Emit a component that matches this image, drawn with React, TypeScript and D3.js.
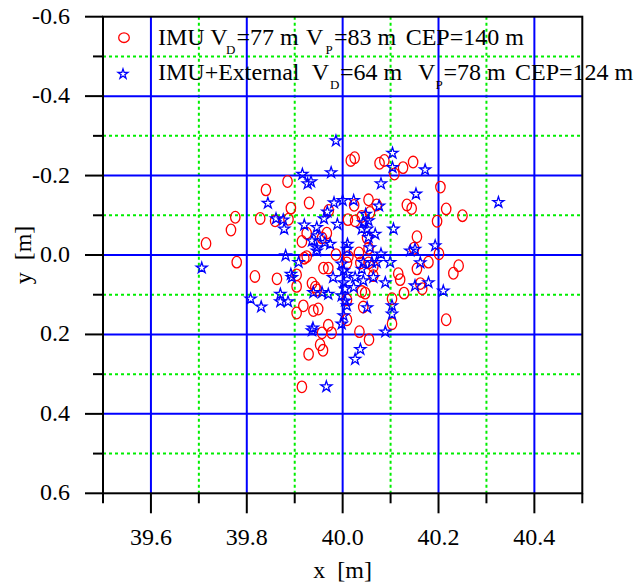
import React from "react";
import * as d3 from "d3";

// IMU only (red circles): [x, y] in metres
const imuPoints: [number, number][] = [
  [40.025, -0.245], [40.017, -0.238], [40.077, -0.231], [40.087, -0.238], [40.126, -0.22], [40.147, -0.234], [40.108, -0.204], [39.885, -0.185], [39.84, -0.164], [40.204, -0.171],
  [39.93, -0.131], [39.892, -0.118], [39.776, -0.095], [39.828, -0.092], [39.859, -0.086], [39.887, -0.09], [39.767, -0.063], [39.971, -0.112], [40.024, -0.125], [40.011, -0.089],
  [40.026, -0.086], [40.054, -0.139], [40.071, -0.126], [40.134, -0.126], [40.144, -0.117], [40.216, -0.116], [40.25, -0.099], [40.197, -0.085], [40.04, -0.097], [40.057, -0.107],
  [40.155, -0.046], [39.967, -0.055], [39.957, -0.043], [40.051, -0.043], [39.925, -0.055], [39.715, -0.029], [39.915, -0.034], [40.054, -0.017], [40.149, -0.017], [40.034, -0.005],
  [39.986, -0.001], [40.012, 0.004], [39.925, 0.004], [39.92, 0.008], [39.779, 0.018], [39.96, 0.033], [39.97, 0.033], [40.054, 0.02], [40.064, 0.029], [40.201, -0.003],
  [40.179, 0.018], [40.155, 0.035], [40.242, 0.027], [40.231, 0.046], [40.116, 0.047], [40.12, 0.062], [39.817, 0.054], [39.863, 0.06], [39.904, 0.05], [40.064, 0.052],
  [40.009, 0.02], [40.037, 0.02], [40.162, 0.072], [40.166, 0.085], [39.904, 0.079], [39.936, 0.071], [39.943, 0.081], [40.04, 0.092], [40.047, 0.096], [40.128, 0.096],
  [39.946, 0.088], [40.103, 0.11], [40.009, 0.113], [39.918, 0.128], [39.904, 0.146], [39.939, 0.14], [39.949, 0.136], [40.043, 0.131], [40.009, 0.163], [40.216, 0.163],
  [40.103, 0.173], [39.97, 0.177], [39.957, 0.196], [39.977, 0.196], [40.035, 0.193], [40.055, 0.213], [39.953, 0.226], [39.959, 0.24], [39.929, 0.25], [39.915, 0.332],
];

// IMU + External (blue stars): [x, y] in metres
const extPoints: [number, number][] = [
  [39.986, -0.29], [39.916, -0.206], [39.976, -0.21], [39.927, -0.182], [39.934, -0.187], [40.104, -0.259], [40.104, -0.223], [40.172, -0.217], [40.08, -0.182], [40.153, -0.156],
  [39.844, -0.133], [39.982, -0.134], [40.0, -0.14], [40.023, -0.14], [39.968, -0.111], [39.961, -0.094], [39.861, -0.094], [39.876, -0.091], [39.878, -0.068], [39.92, -0.078],
  [39.989, -0.08], [40.076, -0.126], [40.048, -0.105], [40.043, -0.084], [40.054, -0.089], [40.04, -0.068], [40.051, -0.068], [40.068, -0.055], [40.106, -0.068], [40.054, -0.047],
  [39.946, -0.072], [39.948, -0.051], [39.963, -0.034], [39.974, -0.03], [40.01, -0.03], [40.009, -0.017], [40.057, -0.021], [39.946, -0.021], [40.08, -0.005], [40.151, -0.017],
  [40.193, -0.026], [40.141, -0.013], [40.325, -0.135], [39.936, -0.038], [39.946, -0.013], [39.706, 0.03], [39.808, 0.108], [39.83, 0.128], [39.87, 0.096], [39.87, 0.115],
  [39.886, 0.115], [39.892, 0.046], [39.894, 0.054], [39.881, -0.001], [39.908, 0.016], [39.939, 0.092], [39.957, 0.092], [39.97, 0.096], [39.98, 0.054], [39.938, 0.181],
  [39.998, 0.02], [40.002, 0.037], [40.009, 0.046], [40.002, 0.067], [40.005, 0.083], [39.998, 0.1], [40.005, 0.113], [40.009, 0.125], [40.002, 0.15], [39.998, 0.171],
  [40.043, 0.016], [40.061, 0.016], [40.071, 0.016], [40.099, 0.016], [40.04, 0.033], [40.026, 0.054], [40.023, 0.079], [40.043, 0.062], [40.064, 0.054], [40.089, 0.067],
  [40.151, 0.075], [40.051, 0.13], [40.103, 0.125], [40.103, 0.146], [40.089, 0.191], [40.162, 0.017], [40.179, 0.067], [40.21, 0.088], [40.037, 0.235], [40.026, 0.26],
  [39.966, 0.329], [39.936, 0.188],
];

const xMajor = [39.6, 39.8, 40.0, 40.2, 40.4];
const xMinor = [39.5, 39.7, 39.9, 40.1, 40.3, 40.5];
const yMajor = [-0.6, -0.4, -0.2, 0.0, 0.2, 0.4, 0.6];
const yMinor = [-0.5, -0.3, -0.1, 0.1, 0.3, 0.5];

const FONT = "'Liberation Serif', 'Times New Roman', serif";
const W = 636;
const H = 587;
const L = 103, R = 582.3, T = 16.7, B = 493.3;

export default function App() {
  const x = d3.scaleLinear().domain([39.5, 40.5]).range([L, R]);
  const y = d3.scaleLinear().domain([-0.6, 0.6]).range([T, B]);
  const star = d3.symbol().type(d3.symbolStar).size(38)() as string;
  const starLegend = d3.symbol().type(d3.symbolStar).size(30)() as string;
  const blue = "#0000ff";
  const green = "#00ee00";
  const red = "#ff0000";

  return (
    <svg width={W} height={H} style={{ position: "absolute", left: 0, top: 0, background: "#fff" }} fontFamily={FONT}>
      <rect x={0} y={0} width={W} height={H} fill="#fff" />
      {/* minor dotted grid */}
      {xMinor.slice(1, -1).map((v) => (
        <line key={"gx" + v} x1={x(v)} x2={x(v)} y1={T} y2={B} stroke={green} strokeWidth={2} strokeDasharray="3 3" />
      ))}
      {yMinor.map((v) => (
        <line key={"gy" + v} x1={L} x2={R} y1={y(v)} y2={y(v)} stroke={green} strokeWidth={2} strokeDasharray="3 3" />
      ))}
      {/* major grid */}
      {xMajor.map((v) => (
        <line key={"Gx" + v} x1={x(v)} x2={x(v)} y1={T} y2={B} stroke={blue} strokeWidth={2} />
      ))}
      {yMajor.slice(1, -1).map((v) => (
        <line key={"Gy" + v} x1={L} x2={R} y1={y(v)} y2={y(v)} stroke={blue} strokeWidth={2} />
      ))}

      {/* data */}
      {imuPoints.map(([a, b], i) => (
        <ellipse key={"c" + i} cx={x(a)} cy={y(b)} rx={4.7} ry={5.8} fill="none" stroke={red} strokeWidth={1.3} />
      ))}
      {extPoints.map(([a, b], i) => (
        <path key={"s" + i} d={star} transform={`translate(${x(a)},${y(b) + 1})`} fill="none" stroke={blue} strokeWidth={1.3} />
      ))}

      {/* frame */}
      <rect x={L} y={T} width={R - L} height={B - T} fill="none" stroke="#000" strokeWidth={2} />
      {/* x ticks */}
      {xMajor.map((v) => (
        <line key={"tx" + v} x1={x(v)} x2={x(v)} y1={B} y2={B + 20} stroke="#000" strokeWidth={2} />
      ))}
      {xMinor.map((v) => (
        <line key={"mx" + v} x1={x(v)} x2={x(v)} y1={B} y2={B + 10} stroke="#000" strokeWidth={2} />
      ))}
      {yMajor.map((v) => (
        <line key={"ty" + v} x1={L - 18} x2={L} y1={y(v)} y2={y(v)} stroke="#000" strokeWidth={2} />
      ))}
      {yMinor.map((v) => (
        <line key={"my" + v} x1={L - 10} x2={L} y1={y(v)} y2={y(v)} stroke="#000" strokeWidth={2} />
      ))}
      {/* tick labels */}
      {xMajor.map((v) => (
        <text key={"lx" + v} x={x(v)} y={B + 52} fontSize={24} textAnchor="middle" fill="#000">
          {v.toFixed(1)}
        </text>
      ))}
      {yMajor.map((v) => (
        <text key={"ly" + v} x={70} y={y(v) + 7} fontSize={24} textAnchor="end" fill="#000">
          {v.toFixed(1)}
        </text>
      ))}
      {/* axis titles */}
      <text x={x(40.0)} y={578} fontSize={24} textAnchor="middle" style={{ whiteSpace: "pre" }} fill="#000">
        {"x  [m]"}
      </text>
      <text transform={`translate(31,${y(0)}) rotate(-90)`} fontSize={24} textAnchor="middle" style={{ whiteSpace: "pre" }} fill="#000">
        {"y  [m]"}
      </text>

      {/* legend */}
      <ellipse cx={124} cy={37.7} rx={5.3} ry={4.8} fill="none" stroke={red} strokeWidth={1.3} />
      <path d={starLegend} transform="translate(123,74)" fill="none" stroke={blue} strokeWidth={1.3} />
      <g fontSize={24} fill="#000">
        <text x={158} y={45}>IMU V</text>
        <text x={226} y={53.5} fontSize={13}>D</text>
        <text x={236.5} y={45}>=77 m</text>
        <text x={306} y={45}>V</text>
        <text x={325.5} y={53.5} fontSize={13}>P</text>
        <text x={334} y={45}>=83 m</text>
        <text x={405.7} y={45}>CEP=140 m</text>

        <text x={158} y={80}>IMU+External</text>
        <text x={311.7} y={80}>V</text>
        <text x={330} y={89} fontSize={13}>D</text>
        <text x={340} y={80}>=64 m</text>
        <text x={418} y={80}>V</text>
        <text x={435.5} y={89} fontSize={13}>P</text>
        <text x={443.5} y={80}>=78 m</text>
        <text x={515} y={80}>CEP=124 m</text>
      </g>
    </svg>
  );
}
